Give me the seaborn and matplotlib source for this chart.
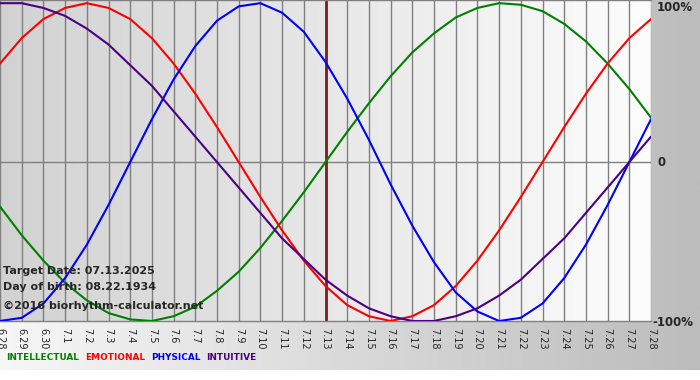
import numpy as np
import pandas as pd
import matplotlib
matplotlib.use("Agg")
import matplotlib.pyplot as plt
import seaborn as sns
from matplotlib.colors import LinearSegmentedColormap

sns.set_style("white")
plt.rcParams['font.family'] = ['DejaVu Sans']

# ---- data (one value per day, 6.28 .. 7.28) ----
dates = ["6.28", "6.29", "6.30", "7.1", "7.2", "7.3", "7.4", "7.5", "7.6", "7.7",
         "7.8", "7.9", "7.10", "7.11", "7.12", "7.13", "7.14", "7.15", "7.16", "7.17",
         "7.18", "7.19", "7.20", "7.21", "7.22", "7.23", "7.24", "7.25", "7.26", "7.27", "7.28"]

intellectual = [-0.28, -0.46, -0.62, -0.76, -0.87, -0.95, -0.99, -1.00, -0.97, -0.91,
                -0.81, -0.69, -0.54, -0.37, -0.19, 0.00, 0.19, 0.37, 0.54, 0.69,
                0.81, 0.91, 0.97, 1.00, 0.99, 0.95, 0.87, 0.76, 0.62, 0.46, 0.28]
emotional = [0.62, 0.78, 0.90, 0.97, 1.00, 0.97, 0.90, 0.78, 0.62, 0.43,
             0.22, 0.00, -0.22, -0.43, -0.62, -0.78, -0.90, -0.97, -1.00, -0.97,
             -0.90, -0.78, -0.62, -0.43, -0.22, 0.00, 0.22, 0.43, 0.62, 0.78, 0.90]
physical = [-1.00, -0.98, -0.89, -0.73, -0.52, -0.27, 0.00, 0.27, 0.52, 0.73,
            0.89, 0.98, 1.00, 0.94, 0.82, 0.63, 0.40, 0.14, -0.14, -0.40,
            -0.63, -0.82, -0.94, -1.00, -0.98, -0.89, -0.73, -0.52, -0.27, 0.00, 0.27]
intuitive = [1.00, 1.00, 0.97, 0.92, 0.84, 0.74, 0.61, 0.48, 0.32, 0.16,
             0.00, -0.16, -0.32, -0.48, -0.61, -0.74, -0.84, -0.92, -0.97, -1.00,
             -1.00, -0.97, -0.92, -0.84, -0.74, -0.61, -0.48, -0.32, -0.16, 0.00, 0.16]

cycles = ["INTELLECTUAL", "EMOTIONAL", "PHYSICAL", "INTUITIVE"]
colors = ["#008000", "#ff0000", "#0000ff", "#4b0082"]
target_idx = dates.index("7.13")

day = np.arange(len(dates))
df = pd.DataFrame({
    "day": np.tile(day, 4),
    "value": intellectual + emotional + physical + intuitive,
    "cycle": np.repeat(cycles, len(dates)),
})

# ---- figure ----
W, H = 700, 380
fig = plt.figure(figsize=(7, 3.8), dpi=100)
fig.patch.set_facecolor("white")

# outer gradient background
bg = fig.add_axes([0, 10 / H, 1, 370 / H])
outer_cmap = LinearSegmentedColormap.from_list("outer", ["#f7f7f7", "#bcbcbc"])
bg.imshow(np.linspace(0, 1, 256)[None, :], cmap=outer_cmap, aspect="auto", extent=[0, 1, 0, 1])
bg.axis("off")

ax = fig.add_axes([0, 59 / H, 651 / W, 321 / H])
ymin, ymax = -1.0, 1.02
inner_cmap = LinearSegmentedColormap.from_list("inner", ["#d2d2d2", "#fdfdfd"])
ax.imshow(np.linspace(0, 1, 256)[None, :], cmap=inner_cmap, aspect="auto",
          extent=[0, len(dates) - 1, ymin, ymax], zorder=0)

ax.set_xticks(day)
ax.grid(axis="x", color="#808080", lw=1, zorder=1)
ax.axhline(0, color="#808080", lw=1, zorder=1)

sns.lineplot(data=df, x="day", y="value", hue="cycle", hue_order=cycles,
             palette=colors, linewidth=1.5, legend=False, ax=ax, zorder=3)

ax.axvline(target_idx, color="#7a1e1e", lw=2, zorder=2)

ax.set_xlim(0, len(dates) - 1)
ax.set_ylim(ymin, ymax)
ax.set_xlabel("")
ax.set_ylabel("")
ax.set_yticks([])
ax.set_xticklabels(dates, rotation=270, fontsize=7)
ax.tick_params(axis="x", length=4, color="#808080", pad=1, direction="out")
for side in ["top", "bottom"]:
    ax.spines[side].set_color("#808080")
    ax.spines[side].set_linewidth(1)
for side in ["left", "right"]:
    ax.spines[side].set_visible(False)

# right-hand percentage labels
ytr = ax.get_yaxis_transform()
ax.text(1.009, 0.97, "100%", transform=ytr, fontsize=8.5, fontweight="bold", va="center", ha="left")
ax.text(1.01, 0.0, "0", transform=ytr, fontsize=8.5, fontweight="bold", va="center", ha="left")
ax.text(1.002, -1.01, "-100%", transform=ytr, fontsize=8.5, fontweight="bold", va="center", ha="left")

# info text
fig.text(3 / W, 1 - 271 / H, "Target Date: 07.13.2025", fontsize=8, fontweight="bold", va="center")
fig.text(3 / W, 1 - 287 / H, "Day of birth: 08.22.1934", fontsize=8, fontweight="bold", va="center")
fig.text(3 / W, 1 - 306 / H, "\u00a92016 biorhythm-calculator.net", fontsize=8, fontweight="bold", va="center")

# legend as coloured words, laid out one after another
renderer = fig.canvas.get_renderer()
lx = 6
for name, col in zip(cycles, colors):
    t = fig.text(lx / W, 1 - 357 / H, name, color=col, fontsize=6.4, fontweight="bold", va="center")
    lx += t.get_window_extent(renderer).width + 6

fig.savefig("out.png", dpi=100)
